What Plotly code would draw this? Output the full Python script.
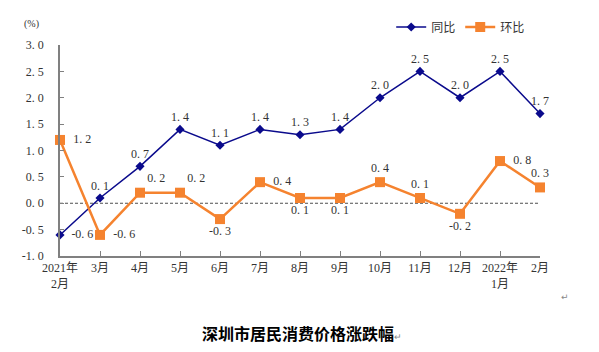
import plotly.graph_objects as go

categories = ["2021年<br>2月", "3月", "4月", "5月", "6月", "7月", "8月", "9月",
              "10月", "11月", "12月", "2022年<br>1月", "2月"]
yoy = [-0.6, 0.1, 0.7, 1.4, 1.1, 1.4, 1.3, 1.4, 2.0, 2.5, 2.0, 2.5, 1.7]
mom = [1.2, -0.6, 0.2, 0.2, -0.3, 0.4, 0.1, 0.1, 0.4, 0.1, -0.2, 0.8, 0.3]
yoy_pos = ["middle right"] + ["top center"] * 12
mom_pos = ["middle right", "middle right", "top right", "top right", "bottom center",
           "middle right", "bottom center", "bottom center", "top center", "top center",
           "bottom center", "middle right", "top center"]
y_ticks = [-1.0, -0.5, 0.0, 0.5, 1.0, 1.5, 2.0, 2.5, 3.0]

FONT = "Liberation Serif, Noto Sans CJK SC, serif"
x = list(range(len(categories)))

def fmt(v):
    return f"{v:.1f}".replace(".", ". ")

fig = go.Figure()
fig.add_trace(go.Scatter(
    x=x, y=yoy, name="同比", mode="lines+markers+text",
    line=dict(color="#0a0a8c", width=1.5),
    marker=dict(symbol="diamond", size=7, color="#0a0a8c"),
    text=["  " + fmt(v) if p == "middle right" else fmt(v) for v, p in zip(yoy, yoy_pos)],
    textposition=yoy_pos, textfont=dict(family=FONT, size=12, color="#333333"),
    cliponaxis=False))
fig.add_trace(go.Scatter(
    x=x, y=mom, name="环比", mode="lines+markers+text",
    line=dict(color="#f5832f", width=2.5),
    marker=dict(symbol="square", size=10, color="#f5832f"),
    text=["  " + fmt(v) if p in ("middle right",) else fmt(v) for v, p in zip(mom, mom_pos)],
    textposition=mom_pos, textfont=dict(family=FONT, size=12, color="#333333"),
    cliponaxis=False))

fig.add_shape(type="line", xref="x", yref="y", x0=0, x1=len(categories) - 1, y0=0, y1=0,
              line=dict(color="#222222", width=0.8, dash="3px,2px"), layer="below")

fig.update_layout(
    width=599, height=352,
    margin=dict(l=60, r=59, t=45, b=96, autoexpand=False),
    plot_bgcolor="white", paper_bgcolor="white",
    font=dict(family=FONT, size=12, color="#333333"),
    showlegend=True,
    legend=dict(orientation="h", x=0.69, y=1.085, xanchor="left", yanchor="middle",
                font=dict(family=FONT, size=12, color="#333333"),
                itemwidth=30, tracegroupgap=0,
                bgcolor="rgba(0,0,0,0)"),
    xaxis=dict(range=[0, len(categories) - 1], tickmode="array", tickvals=x,
               ticktext=categories, showgrid=False, zeroline=False,
               showline=True, linecolor="#808080", linewidth=1.5,
               ticks="inside", ticklen=5, tickcolor="#808080",
               tickfont=dict(family=FONT, size=12, color="#333333")),
    yaxis=dict(range=[-1, 3], tickmode="array", tickvals=y_ticks,
               ticktext=[fmt(v) for v in y_ticks], showgrid=False, zeroline=False,
               showline=True, linecolor="#808080", linewidth=1.5,
               ticks="inside", ticklen=4, tickcolor="#808080",
               ticklabelstandoff=12,
               tickfont=dict(family=FONT, size=12, color="#333333")),
    annotations=[
        dict(text="(%)", xref="paper", yref="paper", x=-0.04, y=1.06,
             showarrow=False, xanchor="right", yanchor="bottom",
             font=dict(family=FONT, size=10, color="#333333")),
        dict(text="<b>深圳市居民消费价格涨跌幅</b><span style='font-size:9px;color:#888888'>↵</span>",
             xref="paper", yref="paper",
             x=0.505, y=-0.365, xanchor="center", yanchor="middle", showarrow=False,
             font=dict(family="Noto Sans CJK SC", size=16, color="#000000")),
        dict(text="↵", xref="paper", yref="paper", x=1.04, y=-0.195,
             xanchor="left", yanchor="middle", showarrow=False,
             font=dict(family="DejaVu Sans", size=9, color="#888888")),
    ],
)

fig.write_html("out.html")
